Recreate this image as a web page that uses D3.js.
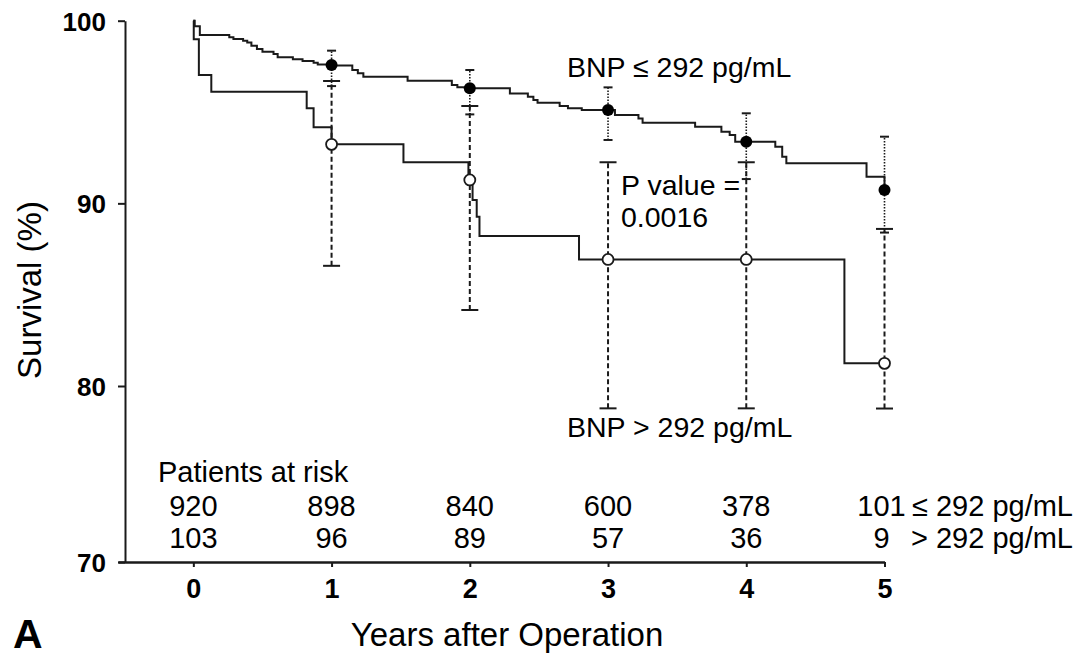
<!DOCTYPE html>
<html>
<head>
<meta charset="utf-8">
<script src="https://cdn.jsdelivr.net/npm/d3@7"></script>
<style>
  body { margin: 0; background: #fff; }
  text { font-family: "Liberation Sans", Arial, sans-serif; fill: #000; }
</style>
</head>
<body>
<svg width="1082" height="656"></svg>
<script>
// KM step curves: [years, survival %]
const lowBnpCurve = [
  [0, 100], [0.01, 99.7], [0.047, 99.22], [0.26, 99.09], [0.29, 99.0], [0.36, 98.9],
  [0.39, 98.8], [0.42, 98.63], [0.46, 98.45], [0.5, 98.3], [0.58, 98.18], [0.61, 98.0],
  [0.72, 97.89], [0.79, 97.79], [0.87, 97.7], [0.9, 97.6], [1.0, 97.55], [1.15, 97.3],
  [1.19, 97.12], [1.23, 96.93], [1.55, 96.71], [1.87, 96.48], [1.91, 96.35], [2.0, 96.3],
  [2.29, 96.02], [2.42, 95.84], [2.46, 95.66], [2.49, 95.51], [2.65, 95.33], [2.71, 95.2],
  [2.81, 95.11], [3.05, 94.84], [3.22, 94.65], [3.25, 94.41], [3.63, 94.19], [3.82, 93.92],
  [3.88, 93.74], [3.92, 93.37], [4.21, 93.1], [4.26, 92.55], [4.29, 92.19], [4.87, 91.46],
  [5.0, 90.73]
];
const highBnpCurve = [
  [0, 100], [0.003, 98.98], [0.04, 97.03], [0.13, 96.11], [0.82, 95.2], [0.87, 94.16],
  [1.0, 93.23], [1.52, 92.25], [1.99, 91.28], [2.02, 90.18], [2.05, 89.27], [2.07, 88.21],
  [2.79, 86.93], [4.71, 81.24], [5.0, 81.24]
];

// yearly estimates with confidence limits
const years = [1, 2, 3, 4, 5];
const lowBnpEst = [97.58, 96.3, 95.11, 93.37, 90.73];
const lowBnpLo = [96.42, 94.87, 93.47, 91.33, 88.4];
const lowBnpHi = [98.36, 97.3, 96.35, 94.93, 93.65];
const highBnpEst = [93.23, 91.28, 86.93, 86.93, 81.24];
const highBnpLo = [86.58, 84.16, 78.73, 78.73, 78.72];
const highBnpHi = [96.7, 95.33, 92.25, 92.25, 88.6];

// patients at risk
const riskYears = [0, 1, 2, 3, 4, 5];
const riskLow = [920, 898, 840, 600, 378, 101];
const riskHigh = [103, 96, 89, 57, 36, 9];

const yTicks = [70, 80, 90, 100];
const xTicks = [0, 1, 2, 3, 4, 5];

const svg = d3.select('svg');
const ink = '#1a1a1a';

const x = d3.scaleLinear().domain([-0.545, 5]).range([118, 884.5]);
const y = d3.scaleLinear().domain([70, 80, 100]).range([562, 386, 20.7]);

// y axis
const yAxis = svg.append('g')
  .attr('transform', 'translate(125,0)')
  .call(d3.axisLeft(y).tickValues(yTicks).tickSize(7).tickSizeOuter(0).tickPadding(12).tickFormat(d3.format('d')));
yAxis.select('.domain').attr('stroke', ink).attr('stroke-width', 2);
yAxis.selectAll('.tick line').attr('stroke', ink).attr('stroke-width', 2);
yAxis.selectAll('.tick text').style('font-size', '26px').style('font-weight', 'bold')
  .attr('dy', '0.36em');

// x axis
const xAxis = svg.append('g')
  .attr('transform', 'translate(0,562)')
  .call(d3.axisBottom(x).tickValues(xTicks).tickSize(5).tickSizeOuter(0).tickPadding(12).tickFormat(d3.format('d')));
xAxis.select('.domain').attr('stroke', ink).attr('stroke-width', 2.5);
xAxis.selectAll('.tick line').attr('stroke', ink).attr('stroke-width', 2);
xAxis.selectAll('.tick text').style('font-size', '27px').style('font-weight', 'bold');

// curves
const line = d3.line().x(d => x(d[0])).y(d => y(d[1])).curve(d3.curveStepAfter);
[lowBnpCurve, highBnpCurve].forEach(c => {
  svg.append('path').datum(c).attr('d', line)
    .attr('fill', 'none').attr('stroke', ink).attr('stroke-width', 2);
});

// error bars
function errorBars(lo, hi, dash, capW, width) {
  const g = svg.append('g');
  years.forEach((t, i) => {
    g.append('line')
      .attr('x1', x(t)).attr('x2', x(t)).attr('y1', y(lo[i])).attr('y2', y(hi[i]))
      .attr('stroke', ink).attr('stroke-width', width).attr('stroke-dasharray', dash);
    [lo[i], hi[i]].forEach(v => {
      g.append('line')
        .attr('x1', x(t) - capW / 2).attr('x2', x(t) + capW / 2).attr('y1', y(v)).attr('y2', y(v))
        .attr('stroke', ink).attr('stroke-width', 2);
    });
  });
}
errorBars(highBnpLo, highBnpHi, '5,3', 17, 2);
errorBars(lowBnpLo, lowBnpHi, '1.5,1.5', 9, 1.6);

// dots
svg.append('g').selectAll('circle').data(years).join('circle')
  .attr('cx', d => x(d)).attr('cy', (d, i) => y(highBnpEst[i])).attr('r', 5.5)
  .attr('fill', '#fff').attr('stroke', ink).attr('stroke-width', 1.8);
svg.append('g').selectAll('circle').data(years).join('circle')
  .attr('cx', d => x(d)).attr('cy', (d, i) => y(lowBnpEst[i])).attr('r', 6)
  .attr('fill', '#000');

// annotations
svg.append('text').attr('x', 567).attr('y', 77).style('font-size', '28.5px').text('BNP \u2264 292 pg/mL');
svg.append('text').attr('x', 567).attr('y', 437).style('font-size', '28.5px').text('BNP > 292 pg/mL');
svg.append('text').attr('x', 621).attr('y', 195).style('font-size', '28.5px').text('P value =');
svg.append('text').attr('x', 621).attr('y', 227).style('font-size', '28.5px').text('0.0016');

// risk table
svg.append('text').attr('x', 158).attr('y', 482).style('font-size', '29px').text('Patients at risk');
[[riskLow, 516], [riskHigh, 548]].forEach(([row, by]) => {
  svg.append('g').selectAll('text').data(row).join('text')
    .attr('x', (d, i) => x(riskYears[i]) - (i === row.length - 1 ? 3 : 0))
    .attr('y', by)
    .attr('text-anchor', 'middle')
    .style('font-size', '29px')
    .text(d => d);
});
svg.append('text').attr('x', 1073).attr('y', 516).attr('text-anchor', 'end').style('font-size', '29px').text('\u2264 292 pg/mL');
svg.append('text').attr('x', 1073).attr('y', 548).attr('text-anchor', 'end').style('font-size', '29px').text('> 292 pg/mL');

// axis titles
svg.append('text').attr('x', 507).attr('y', 646).attr('text-anchor', 'middle')
  .style('font-size', '33px').text('Years after Operation');
svg.append('text').attr('transform', 'translate(41,290) rotate(-90)').attr('text-anchor', 'middle')
  .style('font-size', '33px').text('Survival (%)');
svg.append('text').attr('x', 13).attr('y', 648).style('font-size', '41px').style('font-weight', 'bold').text('A');
</script>
</body>
</html>
